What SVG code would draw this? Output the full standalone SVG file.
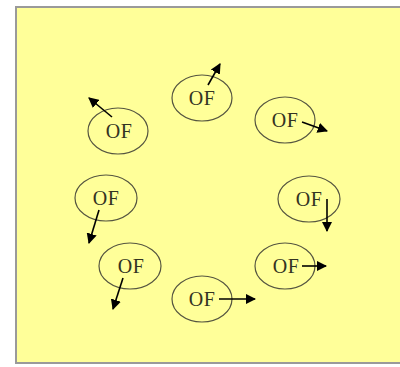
<svg xmlns="http://www.w3.org/2000/svg" width="400" height="367" viewBox="0 0 400 367">
<style>
.bg{fill:#FFFF99;stroke:#9a9a9a;stroke-width:2}
.n ellipse{fill:none;stroke:#555540;stroke-width:1.2}
.n text{font-family:"Liberation Serif",serif;font-size:20px;letter-spacing:0.5px;fill:#333322;text-anchor:middle}
.c line{stroke:#000;stroke-width:1.6;marker-end:url(#ah)}
</style>
<defs>
<marker id="ah" viewBox="0 0 10 10" refX="9" refY="5" markerWidth="6.5" markerHeight="6.5" orient="auto" markerUnits="strokeWidth">
<path d="M0,0 L10,5 L0,10 z" fill="#000"/>
</marker>
</defs>
<rect class="bg" x="16" y="7" width="390" height="356"/>
<g id="n1" class="n"><ellipse cx="202" cy="98" rx="30" ry="23"/><text x="202" y="105">OF</text></g>
<g id="n2" class="n"><ellipse cx="285" cy="120" rx="30" ry="23"/><text x="285" y="127">OF</text></g>
<g id="n3" class="n"><ellipse cx="118" cy="131" rx="30" ry="23"/><text x="119" y="138">OF</text></g>
<g id="n4" class="n"><ellipse cx="106" cy="198" rx="31" ry="23"/><text x="106" y="205">OF</text></g>
<g id="n5" class="n"><ellipse cx="309" cy="199" rx="31" ry="23"/><text x="309" y="206">OF</text></g>
<g id="n6" class="n"><ellipse cx="130" cy="266" rx="31" ry="23"/><text x="131" y="273">OF</text></g>
<g id="n7" class="n"><ellipse cx="285" cy="266" rx="30" ry="23"/><text x="286" y="273">OF</text></g>
<g id="n8" class="n"><ellipse cx="202" cy="299" rx="30" ry="23"/><text x="202" y="306">OF</text></g>
<g id="connectors" class="c">
<line x1="208" y1="85" x2="220" y2="64"/>
<line x1="302" y1="122" x2="327" y2="131"/>
<line x1="112" y1="117" x2="89" y2="98"/>
<line x1="99" y1="210" x2="89" y2="243"/>
<line x1="327" y1="199" x2="327" y2="231"/>
<line x1="123" y1="278" x2="113" y2="309"/>
<line x1="302" y1="266" x2="326" y2="266"/>
<line x1="219" y1="299" x2="255" y2="299"/>
</g>
</svg>
